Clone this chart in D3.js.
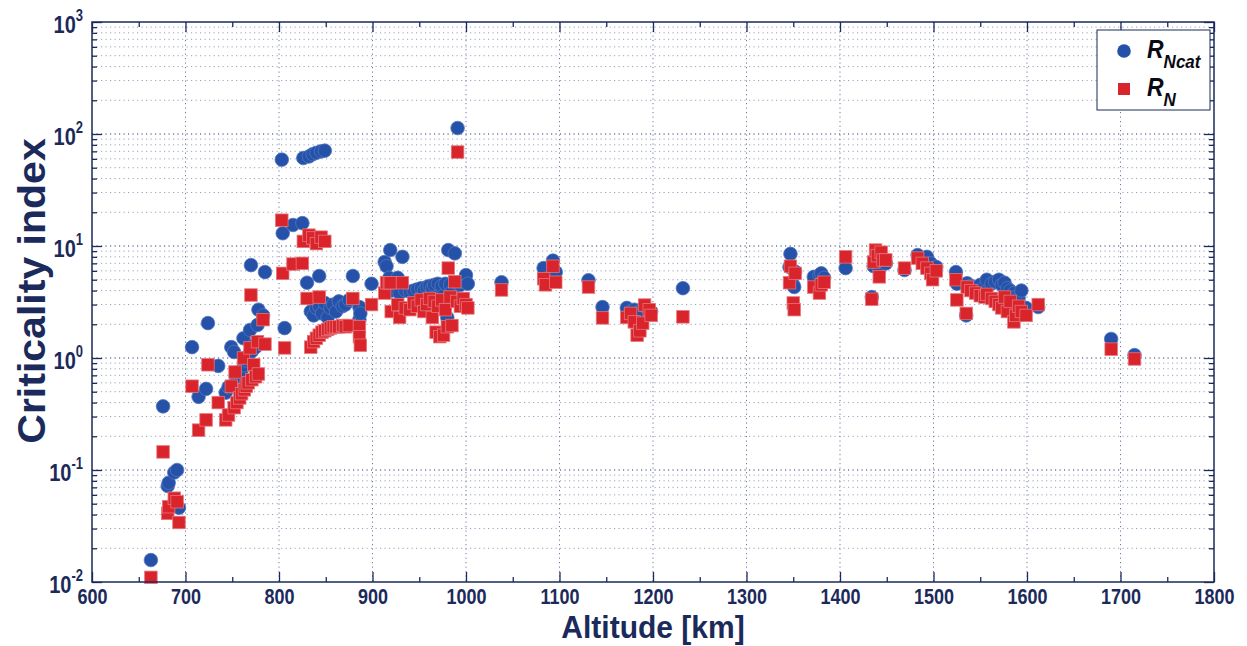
<!DOCTYPE html>
<html>
<head>
<meta charset="utf-8">
<script src="https://cdn.jsdelivr.net/npm/d3@7"></script>
<style>
  html, body { margin: 0; padding: 0; background: #ffffff; }
  svg { display: block; }
  text { font-family: "Liberation Sans", Arial, sans-serif; font-weight: bold; }
</style>
</head>
<body>
<svg id="chart" width="1247" height="646"></svg>
<script>
// Altitude of each object [km] with its two criticality indices
const altitude = [
  663, 676, 681, 682, 688, 691, 693, 707, 714, 722, 724, 735,
  743, 746, 749, 752, 753, 755, 758, 760, 762, 763, 765, 767, 769, 770, 771, 773, 775, 777, 778, 783, 785,
  803, 804, 806, 815, 825, 826, 832, 836, 840, 845, 849, 830, 843, 879, 899,
  834, 837, 840, 843, 846, 849, 852, 855, 858, 861, 864, 868, 871, 875, 886, 886, 887,
  913, 915, 918, 919, 920, 927, 929, 932, 935,
  940, 944, 948, 952, 955, 958, 961, 964, 966, 968, 970, 972, 974, 976, 978, 980, 981, 983, 985, 988, 990, 991, 994, 997, 1000, 1002,
  1038, 1083, 1085, 1093, 1096, 1131, 1146,
  1172, 1176, 1180, 1183, 1186, 1189, 1191, 1196, 1198, 1232,
  1346, 1347, 1350, 1351, 1352, 1372, 1378, 1380, 1383, 1406,
  1434, 1436, 1438, 1440, 1442, 1444, 1446, 1449, 1469,
  1483, 1488, 1493, 1497, 1499, 1503,
  1524, 1525, 1535, 1536, 1540, 1545, 1550, 1555, 1557, 1562, 1566, 1570, 1573, 1576, 1579, 1582, 1586, 1588, 1591, 1594, 1599, 1612,
  1690, 1715
];
const rNcat = [
  0.0157, 0.37, 0.072, 0.077, 0.095, 0.1, 0.046, 1.25, 0.45, 0.53, 2.05, 0.85,
  0.49, 0.55, 1.25, 1.13, 0.6, 0.62, 0.7, 0.78, 1.5, 0.86, 0.95, 1.05, 1.78, 6.75, 1.15, 1.3, 1.25, 1.97, 2.7, 2.4, 5.85,
  59, 13, 1.85, 15.4, 16, 61, 63, 66, 68, 70, 71, 4.7, 5.4, 5.4, 4.6,
  2.6, 2.4, 2.8, 2.9, 2.5, 3.1, 2.3, 2.8, 3.0, 2.6, 3.2, 2.9, 3.0, 3.3, 2.85, 2.2, 2.5,
  7.2, 6.6, 5.2, 9.2, 4.0, 5.2, 3.8, 8.0, 4.0,
  3.9, 4.0, 4.1, 4.2, 4.0, 4.3, 4.4, 4.2, 4.5, 3.5, 4.6, 3.2, 4.4, 3.6, 4.6, 2.3, 9.2, 4.5, 3.9, 8.6, 4.7, 113, 4.5, 4.8, 5.5, 4.6,
  4.75, 6.35, 5.1, 7.4, 5.85, 4.95, 2.85,
  2.8, 2.6, 2.7, 2.5, 2.6, 2.5, 2.9, 2.7, 2.6, 4.2,
  6.5, 8.5, 4.5, 4.3, 5.9, 5.3, 5.5, 5.7, 5.2, 6.35,
  3.5, 6.6, 7.0, 8.6, 6.1, 7.8, 7.6, 7.0, 6.1,
  8.3, 7.5, 8.0, 7.0, 6.0, 6.5,
  5.85, 4.6, 2.4, 4.65, 4.4, 4.2, 4.5, 4.3, 5.0, 4.6, 4.8, 5.0, 4.5, 4.7, 4.2, 4.0, 3.8, 3.5, 3.4, 4.0, 2.8, 2.85,
  1.48, 1.06
];
const rN = [
  0.011, 0.145, 0.041, 0.047, 0.056, 0.052, 0.034, 0.56, 0.227, 0.28, 0.87, 0.40,
  0.28, 0.31, 0.56, 0.36, 0.75, 0.40, 0.44, 0.48, 1.0, 0.52, 0.56, 0.60, 1.23, 3.65, 0.64, 0.87, 0.68, 1.4, 0.72, 2.2, 1.33,
  17, 5.7, 1.23, 6.9, 7.0, 11, 12.5, 11.8, 10.5, 12, 11, 3.4, 3.5, 3.4, 3.0,
  1.25, 1.4, 1.5, 1.6, 1.7, 1.75, 1.8, 1.85, 1.9, 1.9, 1.9, 1.95, 1.9, 1.95, 1.9, 1.55, 1.3,
  3.8, 4.7, 4.7, 4.7, 2.6, 3.0, 2.3, 4.7, 2.8,
  2.7, 3.1, 2.9, 3.3, 2.6, 3.0, 3.4, 2.3, 3.2, 1.7, 2.9, 1.55, 3.3, 1.6, 2.7, 1.9, 6.35, 3.5, 1.95, 4.8, 3.2, 69, 2.9, 3.4, 3.0, 2.8,
  4.05, 5.1, 4.5, 6.6, 4.75, 4.3, 2.28,
  2.3, 2.5, 2.1, 1.6, 1.75, 2.05, 2.97, 2.7, 2.4, 2.33,
  4.7, 6.6, 3.1, 2.7, 5.7, 4.3, 3.8, 4.5, 4.75, 8.0,
  3.35, 7.2, 9.2, 8.2, 5.3, 8.8, 7.5, 7.5, 6.35,
  7.8, 7.0, 6.35, 5.7, 5.0, 6.0,
  5.0, 3.3, 2.5, 4.3, 4.0, 3.8, 3.6, 3.5, 3.7, 3.4, 3.2, 3.0, 2.8, 3.5, 2.6, 3.2, 2.1, 2.4, 2.9, 2.6, 2.4, 3.0,
  1.2, 0.98
];
// Axis tick values and labels
const xTicks = [600, 700, 800, 900, 1000, 1100, 1200, 1300, 1400, 1500, 1600, 1700, 1800];
const xMinorTicks = [650, 750, 850, 950, 1050, 1150, 1250, 1350, 1450, 1550, 1650, 1750];
const yExponents = [-2, -1, 0, 1, 2, 3];
const seriesNames = [["R", "Ncat"], ["R", "N"]];

const ink = "#1b2a5b";
const blue = "#2552a8";
const red = "#d9242c";
const stretch = 1.2; // tall lettering

const svg = d3.select("#chart");
const L = 92, R = 1214, T = 22, B = 582;

const x = d3.scaleLinear().domain([600, 1800]).range([L, R]);
const y = d3.scaleLog().domain([1e-2, 1e3]).range([B, T]);

const yMajor = yExponents.map(e => Math.pow(10, e));
const yMinor = [];
yExponents.slice(0, -1).forEach(e => {
  for (let m = 2; m <= 9; m++) yMinor.push(m * Math.pow(10, e));
});

// Dotted grid
const grid = svg.append("g");
grid.selectAll(".gmin").data(yMinor).join("line")
  .attr("x1", L).attr("x2", R)
  .attr("y1", d => y(d)).attr("y2", d => y(d))
  .attr("stroke", "#98a1bd").attr("stroke-width", 1).attr("stroke-dasharray", "1.2,3.3");
grid.selectAll(".gmaj").data(yMajor.slice(1, -1)).join("line")
  .attr("x1", L).attr("x2", R)
  .attr("y1", d => y(d)).attr("y2", d => y(d))
  .attr("stroke", "#2c3a6a").attr("stroke-width", 1).attr("stroke-dasharray", "1.2,3.3");
grid.selectAll(".gx").data(xTicks.slice(1, -1)).join("line")
  .attr("x1", d => x(d)).attr("x2", d => x(d))
  .attr("y1", T).attr("y2", B)
  .attr("stroke", "#6f79a0").attr("stroke-width", 1).attr("stroke-dasharray", "1.2,3.3");

// Markers: circles for R_Ncat, squares for R_N drawn above
const idx = d3.range(altitude.length);
svg.append("g").selectAll("circle").data(idx).join("circle")
  .attr("cx", i => x(altitude[i])).attr("cy", i => y(rNcat[i]))
  .attr("r", 6.8)
  .attr("fill", blue).attr("stroke", "#5076c0").attr("stroke-width", 0.8);
const sq = 12.5;
svg.append("g").selectAll("rect").data(idx).join("rect")
  .attr("x", i => x(altitude[i]) - sq / 2).attr("y", i => y(rN[i]) - sq / 2)
  .attr("width", sq).attr("height", sq)
  .attr("fill", red).attr("stroke", "#e6747a").attr("stroke-width", 0.8);

// Axes with inward ticks on all four sides
function styleAxis(g) {
  g.select(".domain").remove();
  g.selectAll(".tick line").attr("stroke", ink).attr("stroke-width", 1.3);
}
const xAxisG = svg.append("g").attr("transform", `translate(0,${B})`)
  .call(d3.axisBottom(x).tickValues(xTicks).tickSize(-10).tickFormat(""))
  .call(styleAxis);
svg.append("g").attr("transform", `translate(0,${B})`)
  .call(d3.axisBottom(x).tickValues(xMinorTicks).tickSize(-5).tickFormat(""))
  .call(styleAxis);
svg.append("g").attr("transform", `translate(0,${T})`)
  .call(d3.axisTop(x).tickValues(xTicks).tickSize(-10).tickFormat(""))
  .call(styleAxis);
svg.append("g").attr("transform", `translate(0,${T})`)
  .call(d3.axisTop(x).tickValues(xMinorTicks).tickSize(-5).tickFormat(""))
  .call(styleAxis);

const yAxisG = svg.append("g").attr("transform", `translate(${L},0)`)
  .call(d3.axisLeft(y).tickValues(yMajor).tickSize(-10).tickFormat(""))
  .call(styleAxis);
svg.append("g").attr("transform", `translate(${L},0)`)
  .call(d3.axisLeft(y).tickValues(yMinor).tickSize(-5).tickFormat(""))
  .call(styleAxis);
svg.append("g").attr("transform", `translate(${R},0)`)
  .call(d3.axisRight(y).tickValues(yMajor).tickSize(-10).tickFormat(""))
  .call(styleAxis);
svg.append("g").attr("transform", `translate(${R},0)`)
  .call(d3.axisRight(y).tickValues(yMinor).tickSize(-5).tickFormat(""))
  .call(styleAxis);

// Altitude labels
xAxisG.selectAll(".tick").each(function (d) {
  d3.select(this).append("text")
    .attr("transform", `translate(0,22) scale(1,${stretch})`)
    .attr("text-anchor", "middle").attr("font-size", 18).attr("fill", ink)
    .text(d3.format("d")(d));
});

// Power-of-ten labels
yAxisG.selectAll(".tick").each(function (d) {
  const e = Math.round(Math.log10(d));
  const t = d3.select(this).append("text")
    .attr("transform", `translate(-9,10) scale(1,${stretch})`)
    .attr("text-anchor", "end").attr("fill", ink);
  t.append("tspan").attr("font-size", 20).text("10");
  t.append("tspan").attr("font-size", 13).attr("dy", -10).text(e);
});

// Frame
svg.append("rect").attr("x", L).attr("y", T).attr("width", R - L).attr("height", B - T)
  .attr("fill", "none").attr("stroke", ink).attr("stroke-width", 1.5);

// Axis titles
svg.append("text")
  .attr("transform", `translate(${(L + R) / 2},638) scale(1,1.05)`)
  .attr("text-anchor", "middle")
  .attr("font-size", 30).attr("fill", ink)
  .text("Altitude [km]");
svg.append("text")
  .attr("transform", `translate(45,291) rotate(-90) scale(1.08,1)`)
  .attr("text-anchor", "middle")
  .attr("font-size", 38).attr("fill", ink)
  .text("Criticality index");

// Legend
const lg = svg.append("g");
lg.append("rect").attr("x", 1097).attr("y", 30).attr("width", 113).attr("height", 80)
  .attr("fill", "#ffffff").attr("stroke", ink).attr("stroke-width", 1);
lg.append("circle").attr("cx", 1124).attr("cy", 51).attr("r", 6.8).attr("fill", blue);
lg.append("rect").attr("x", 1124 - 6).attr("y", 89 - 6).attr("width", 12).attr("height", 12).attr("fill", red);
[[58, seriesNames[0]], [96, seriesNames[1]]].forEach(([by, nm]) => {
  const t = lg.append("text")
    .attr("transform", `translate(1147,${by}) scale(1,1.12)`)
    .attr("fill", "#0a0a14")
    .style("font-style", "italic");
  t.append("tspan").attr("font-size", 23).text(nm[0]);
  t.append("tspan").attr("font-size", 17).attr("dy", 9).text(nm[1]);
});
</script>
</body>
</html>
